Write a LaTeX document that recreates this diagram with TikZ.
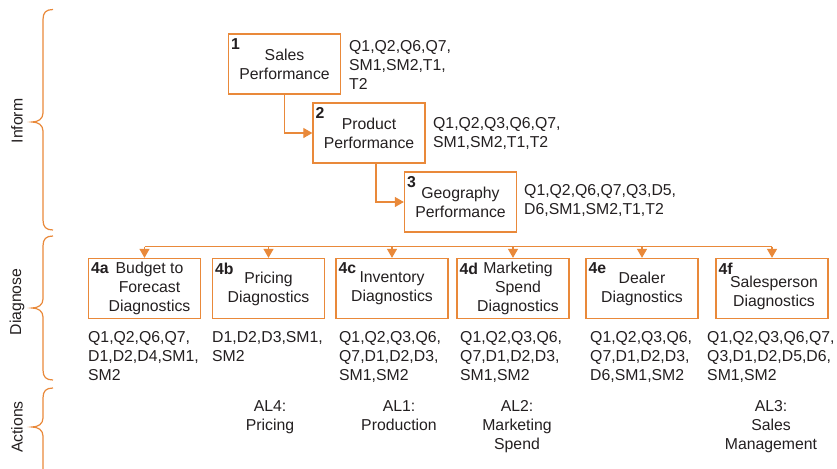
\documentclass[tikz,border=0pt]{standalone}
\usepackage{fontspec}
\setmainfont{Liberation Sans}
\usetikzlibrary{arrows.meta}
\definecolor{org}{RGB}{233,137,58}
\definecolor{ink}{RGB}{35,31,32}
\newcommand\mybrace[3]{%
  \draw[brc] (53,#1) .. controls (46,#1) and (43,#1+3) .. (43,#1+10) -- (43,#2-9)
    .. controls (43,#2-3) and (38,#2) .. (32,#2)
    .. controls (38,#2) and (43,#2+3) .. (43,#2+9) -- (43,#3-10)
    .. controls (43,#3-3) and (46,#3) .. (53,#3);}
\tikzset{
  brc/.style={draw=org,line width=1.2pt},
  conn/.style={draw=org,line width=1.2pt},
  arr/.style={conn,-{Triangle[width=10pt,length=9pt]}},
  box/.style={draw=org,line width=1.3pt,minimum width=112pt,minimum height=60pt,inner sep=0pt},
  txt/.style={font=\fontsize{15.8}{19}\selectfont,text=ink,inner sep=0pt},
  ctxt/.style={txt,align=center},
  ltxt/.style={txt,align=left,anchor=north west},
  num/.style={font=\fontsize{15.8}{19}\selectfont\bfseries,text=ink,inner sep=0pt,anchor=north west},
  side/.style={txt,rotate=90}
}
\begin{document}
\begin{tikzpicture}[x=1pt,y=-1pt]
\useasboundingbox (0,0) rectangle (837,468);
% braces
\mybrace{9.5}{122}{230}
\mybrace{236}{308}{380}
\mybrace{388}{427}{500}
\node[side] (inform) at (17,121) {Inform};
\node[side] (diagnose) at (17,302) {Diagnose};
\node[side] (actions) at (17,427) {Actions};
% top boxes
\node[box] (b1) at (284.5,64) {};
\node[box] (b2) at (369,133) {};
\node[box] (b3) at (460.5,202) {};
\node[ctxt] (t1) at (b1.center) {Sales\\Performance};
\node[ctxt] (t2) at (b2.center) {Product\\Performance};
\node[ctxt] (t3) at (b3.center) {Geography\\Performance};
\node[num] (n1) at ([shift={(3,5)}]b1.north west) {1};
\node[num] (n2) at ([shift={(3,5)}]b2.north west) {2};
\node[num] (n3) at ([shift={(3,5)}]b3.north west) {3};
\node[ltxt] (l1) at (349,40.5) {Q1,Q2,Q6,Q7,\\SM1,SM2,T1,\\T2};
\node[ltxt] (l2) at (433,117.5) {Q1,Q2,Q3,Q6,Q7,\\SM1,SM2,T1,T2};
\node[ltxt] (l3) at (524,184.5) {Q1,Q2,Q6,Q7,Q3,D5,\\D6,SM1,SM2,T1,T2};
\draw[arr] (b1.south) |- (b2.west);
\draw[arr] ([xshift=7pt]b2.south) |- (b3.west);
% row 4
\node[box] (b4a) at (144.5,288.5) {};
\node[box] (b4b) at (268.5,288.5) {};
\node[box] (b4c) at (392,288.5) {};
\node[box] (b4d) at (513,288.5) {};
\node[box] (b4e) at (642,288.5) {};
\node[box] (b4f) at (772,288.5) {};
\node[ctxt] (t4a) at ([xshift=5pt]b4a.center) {Budget to\\Forecast\\Diagnostics};
\node[ctxt] (t4b) at (b4b.center) {Pricing\\Diagnostics};
\node[ctxt] (t4c) at (b4c.center) {Inventory\\Diagnostics};
\node[ctxt] (t4d) at ([xshift=5pt]b4d.center) {Marketing\\Spend\\Diagnostics};
\node[ctxt] (t4e) at (b4e.center) {Dealer\\Diagnostics};
\node[ctxt] (t4f) at ([shift={(2,4.5)}]b4f.center) {Salesperson\\Diagnostics};
\node[num] (n4a) at ([shift={(3,5)}]b4a.north west) {4a};
\node[num] (n4b) at ([shift={(3,5)}]b4b.north west) {4b};
\node[num] (n4c) at ([shift={(3,5)}]b4c.north west) {4c};
\node[num] (n4d) at ([shift={(3,5)}]b4d.north west) {4d};
\node[num] (n4e) at ([shift={(3,5)}]b4e.north west) {4e};
\node[num] (n4f) at ([shift={(3,5)}]b4f.north west) {4f};
% bus
\coordinate (busL) at (144.5,246.5);
\coordinate (busR) at (772,246.5);
\draw[conn] (busL) -- (busR);
\foreach \n in {4a,4b,4c,4d,4e,4f}
  \draw[arr] (b\n.north |- busL) -- (b\n.north);
% lower labels
\node[ltxt] (m4a) at (88,331) {Q1,Q2,Q6,Q7,\\D1,D2,D4,SM1,\\SM2};
\node[ltxt] (m4b) at (212,331) {D1,D2,D3,SM1,\\SM2};
\node[ltxt] (m4c) at (339,331) {Q1,Q2,Q3,Q6,\\Q7,D1,D2,D3,\\SM1,SM2};
\node[ltxt] (m4d) at (460,331) {Q1,Q2,Q3,Q6,\\Q7,D1,D2,D3,\\SM1,SM2};
\node[ltxt] (m4e) at (590,331) {Q1,Q2,Q3,Q6,\\Q7,D1,D2,D3,\\D6,SM1,SM2};
\node[ltxt] (m4f) at (707,331) {Q1,Q2,Q3,Q6,Q7,\\Q3,D1,D2,D5,D6,\\SM1,SM2};
% actions
\node[ctxt,anchor=north] (al4) at (270,400) {AL4:\\Pricing};
\node[ctxt,anchor=north] (al1) at (399,400) {AL1:\\Production};
\node[ctxt,anchor=north] (al2) at (517,400) {AL2:\\Marketing\\Spend};
\node[ctxt,anchor=north] (al3) at (771,400) {AL3:\\Sales\\Management};
\end{tikzpicture}
\end{document}
